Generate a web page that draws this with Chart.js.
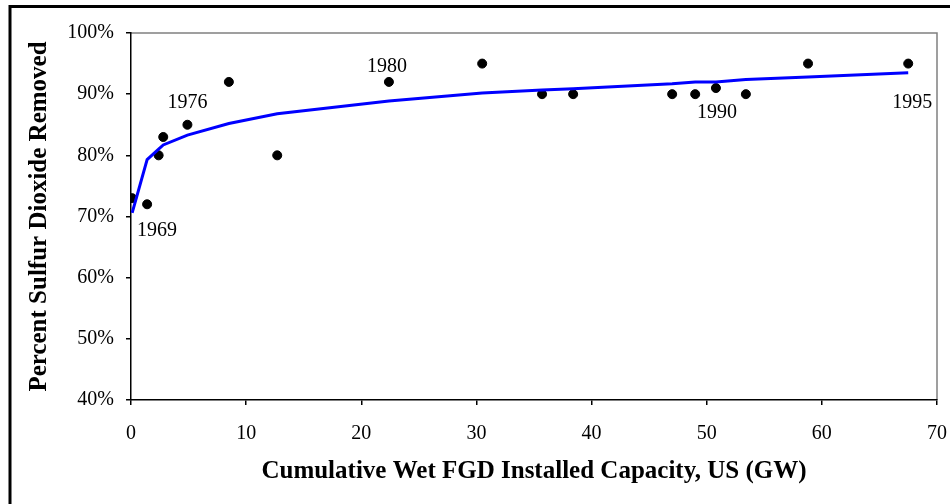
<!DOCTYPE html>
<html>
<head>
<meta charset="utf-8">
<script src="https://cdn.jsdelivr.net/npm/chart.js@4"></script>
<style>
  body { margin: 0; background: #fff; }
  canvas { display: block; }
</style>
</head>
<body>
<canvas id="cvs_fgd" width="950" height="504"></canvas>
<script>
// cumulative wet FGD capacity (GW) and % SO2 removed
var capacityGW = [0.1, 1.4, 2.4, 2.8, 4.9, 8.5, 12.7, 22.4, 30.5, 35.7, 38.4, 47.0, 49.0, 50.8, 53.4, 58.8, 67.5];
var percentRemoved = [73, 72, 80, 83, 85, 92, 80, 92, 95, 90, 90, 90, 90, 91, 90, 95, 95];
// fitted curve, read at the same x positions
var fitPercent = [70.6, 79.3, 81.0, 81.7, 83.3, 85.2, 86.8, 88.9, 90.2, 90.7, 90.9, 91.7, 92.0, 92.0, 92.4, 92.8, 93.5];

var xTicks = [0, 10, 20, 30, 40, 50, 60, 70];
var yTicks = [40, 50, 60, 70, 80, 90, 100];

var yearLabels = ['1969', '1976', '1980', '1990', '1995'];
var yearPointIndex = [1, 4, 7, 13, 16];

var serif = '"Liberation Serif", "Times New Roman", serif';

function toPoints(xs, ys) {
    return xs.map(function (x, i) { return { x: x, y: ys[i] }; });
}

var frame = {
    id: 'frame',
    beforeDraw: function (chart) {
        var ctx = chart.ctx;
        ctx.save();
        ctx.fillStyle = '#fff';
        ctx.fillRect(0, 0, chart.width, chart.height);
        ctx.strokeStyle = '#000';
        ctx.lineWidth = 3;
        ctx.strokeRect(10, 6.5, 1000, 1000);
        var a = chart.chartArea;
        ctx.strokeStyle = '#808080';
        ctx.lineWidth = 1.5;
        ctx.beginPath();
        ctx.moveTo(a.left, a.top);
        ctx.lineTo(a.right, a.top);
        ctx.lineTo(a.right, a.bottom);
        ctx.stroke();
        ctx.restore();
    },
    afterDatasetsDraw: function (chart) {
        var ctx = chart.ctx;
        var xs = chart.scales.x, ys = chart.scales.y;
        var offsets = [[10, 26], [0, -22], [-2, -15], [1, 25], [4, 39]];
        ctx.save();
        ctx.font = '20px ' + serif;
        ctx.fillStyle = '#000';
        ctx.textAlign = 'center';
        ctx.textBaseline = 'middle';
        yearLabels.forEach(function (t, i) {
            var k = yearPointIndex[i];
            var px = xs.getPixelForValue(capacityGW[k]) + offsets[i][0];
            var py = ys.getPixelForValue(percentRemoved[k]) + offsets[i][1];
            ctx.fillText(t, px, py);
        });
        ctx.restore();
    }
};

var config = {
    type: 'scatter',
    data: {
        datasets: [{
            type: 'line',
            label: 'Fit',
            data: toPoints(capacityGW, fitPercent),
            borderColor: '#0000ff',
            borderWidth: 3,
            pointRadius: 0,
            fill: false,
            tension: 0
        }, {
            label: 'Observed',
            data: toPoints(capacityGW, percentRemoved),
            backgroundColor: '#000',
            borderColor: '#000',
            pointRadius: 4.5,
            pointHoverRadius: 4.5
        }]
    },
    options: {
        responsive: false,
        animation: false,
        events: [],
        layout: { padding: { left: 0, top: 33, right: 13, bottom: 0 } },
        plugins: {
            legend: { display: false },
            title: { display: false },
            tooltip: { enabled: false }
        },
        scales: {
            x: {
                type: 'linear',
                min: 0,
                max: 70,
                afterBuildTicks: function (s) { s.ticks = xTicks.map(function (v) { return { value: v }; }); },
                afterFit: function (s) { s.height = 104; s.paddingLeft = 0; s.paddingRight = 0; },
                grid: { drawOnChartArea: false, drawTicks: true, tickLength: 5, color: '#000', lineWidth: 1.5 },
                border: { color: '#000', width: 1.5 },
                ticks: { color: '#000', font: { family: serif, size: 20 }, padding: 17, maxRotation: 0 },
                title: {
                    display: true,
                    text: 'Cumulative Wet FGD Installed Capacity, US (GW)',
                    color: '#000',
                    font: { family: serif, size: 25, weight: 'bold' },
                    padding: { top: 0, bottom: 17 }
                }
            },
            y: {
                min: 40,
                max: 100,
                afterBuildTicks: function (s) { s.ticks = yTicks.map(function (v) { return { value: v }; }); },
                afterFit: function (s) { s.width = 131; s.paddingTop = 0; s.paddingBottom = 0; },
                grid: { drawOnChartArea: false, drawTicks: true, tickLength: 5, color: '#000', lineWidth: 1.5 },
                border: { color: '#000', width: 1.5 },
                ticks: {
                    color: '#000',
                    font: { family: serif, size: 20 },
                    padding: 12,
                    callback: function (v) { return v + '%'; }
                },
                title: {
                    display: true,
                    text: 'Percent Sulfur Dioxide Removed',
                    color: '#000',
                    font: { family: serif, size: 25, weight: 'bold' },
                    padding: { top: 25, bottom: 0 }
                }
            }
        }
    },
    plugins: [frame]
};

window.onload = function () {
    window.myChart = new Chart(document.getElementById('cvs_fgd'), config);
};
</script>
</body>
</html>
